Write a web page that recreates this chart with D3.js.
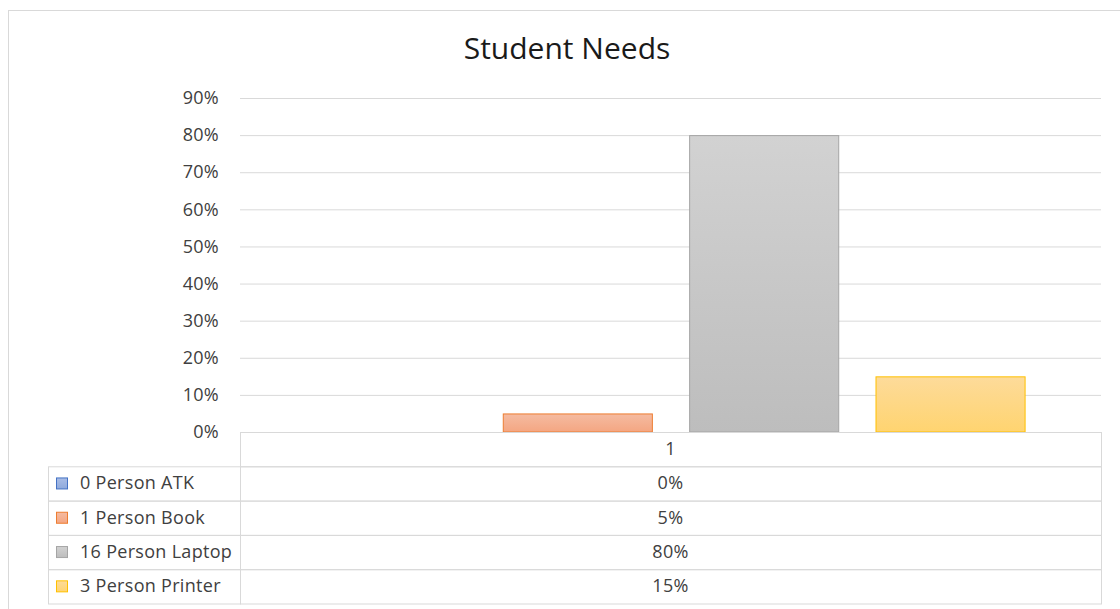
<!DOCTYPE html>
<html>
<head>
<meta charset="utf-8">
<script src="https://cdn.jsdelivr.net/npm/d3@7"></script>
<style>
  body { margin: 0; background: #fff; }
  text { font-family: "Open Sans", "Noto Sans", sans-serif; }
</style>
</head>
<body>
<div class="container"></div>
<script>
const title = "Student Needs";
const category = "1";
const seriesNames = ["0 Person ATK", "1 Person Book", "16 Person Laptop", "3 Person Printer"];
const seriesValues = [0, 0.05, 0.80, 0.15];
const yTicks = [0, 0.1, 0.2, 0.3, 0.4, 0.5, 0.6, 0.7, 0.8, 0.9];

const colors = [
  { stroke: "#4472C4", top: "#aabde6", bottom: "#8faadc" },
  { stroke: "#ED7D31", top: "#f5bba1", bottom: "#f4a682" },
  { stroke: "#A5A5A5", top: "#d2d2d2", bottom: "#bdbdbd" },
  { stroke: "#FFC000", top: "#fddb9a", bottom: "#ffd470" }
];

const w = 1120, h = 609;
const plotL = 240, plotR = 1101, plotT = 98, base = 432;
const rowH = 34.3;
const fs = 18, ls = 0.3;

const svg = d3.select(".container").append("svg")
  .attr("width", w).attr("height", h);

// gradients
const defs = svg.append("defs");
colors.forEach((c, i) => {
  const g = defs.append("linearGradient").attr("id", "g" + i)
    .attr("x1", 0).attr("y1", 0).attr("x2", 0).attr("y2", 1);
  g.append("stop").attr("offset", "0%").attr("stop-color", c.top);
  g.append("stop").attr("offset", "100%").attr("stop-color", c.bottom);
});

// chart border
svg.append("rect").attr("x", 8.5).attr("y", 10.5).attr("width", 1120).attr("height", 620)
  .attr("fill", "#fff").attr("stroke", "#d9d9d9");

svg.append("text").attr("x", 567).attr("y", 59).attr("text-anchor", "middle")
  .attr("font-size", 30).attr("fill", "#1a1a1a").text(title);

const y = d3.scaleLinear().domain([0, 0.9]).range([base, plotT]);
const x0 = d3.scaleBand().domain([category]).range([plotL, plotR]);
const x1 = d3.scaleBand().domain(seriesNames).range([0, x0.bandwidth()])
  .paddingInner(0.2).paddingOuter(0.41);

// gridlines + labels
const yAxis = svg.append("g").attr("transform", `translate(${plotL},0)`)
  .call(d3.axisLeft(y).tickValues(yTicks).tickSize(-(plotR - plotL)).tickPadding(21)
    .tickFormat(d3.format(".0%")));
yAxis.select(".domain").remove();
yAxis.selectAll(".tick line").attr("stroke", "#d9d9d9");
yAxis.selectAll(".tick text").attr("font-size", fs).attr("letter-spacing", ls)
  .attr("fill", "#404040");

// bars
svg.append("g").selectAll("rect")
  .data(seriesNames.map((s, i) => ({ s, v: seriesValues[i], i })))
  .join("rect")
  .attr("x", d => x0(category) + x1(d.s) + 0.5)
  .attr("y", d => y(d.v) + 0.5)
  .attr("width", x1.bandwidth())
  .attr("height", d => Math.max(0, base - y(d.v) - 0.5))
  .attr("fill", d => `url(#g${d.i})`)
  .attr("stroke", d => colors[d.i].stroke)
  .attr("stroke-width", d => d.v > 0 ? 1 : 0);

// data table
const tbl = svg.append("g").attr("stroke", "#d9d9d9").attr("fill", "none");
tbl.append("rect").attr("x", plotL + 0.5).attr("y", base + 0.5)
  .attr("width", plotR - plotL).attr("height", rowH);
seriesNames.forEach((s, i) => {
  tbl.append("rect").attr("x", 48.5).attr("y", base + rowH * (i + 1) + 0.5)
    .attr("width", plotL - 48).attr("height", rowH);
  tbl.append("rect").attr("x", plotL + 0.5).attr("y", base + rowH * (i + 1) + 0.5)
    .attr("width", plotR - plotL).attr("height", rowH);
});

svg.append("text").attr("x", x0(category) + x0.bandwidth() / 2).attr("y", base + rowH / 2 + 6)
  .attr("text-anchor", "middle").attr("font-size", fs).attr("letter-spacing", ls)
  .attr("fill", "#404040").text(category);

const rows = svg.append("g").selectAll("g")
  .data(seriesNames.map((s, i) => ({ s, v: seriesValues[i], i })))
  .join("g")
  .attr("transform", d => `translate(0,${base + rowH * (d.i + 1)})`);

rows.append("rect").attr("x", 56.5).attr("y", rowH / 2 - 5.5).attr("width", 11).attr("height", 11)
  .attr("fill", d => `url(#g${d.i})`).attr("stroke", d => colors[d.i].stroke);
rows.append("text").attr("x", 80).attr("y", rowH / 2 + 6).attr("font-size", fs)
  .attr("letter-spacing", ls).attr("fill", "#404040").text(d => d.s);
rows.append("text").attr("x", x0(category) + x0.bandwidth() / 2).attr("y", rowH / 2 + 6)
  .attr("text-anchor", "middle").attr("font-size", fs).attr("letter-spacing", ls)
  .attr("fill", "#404040")
  .text(d => d3.format(".0%")(d.v));
</script>
</body>
</html>
